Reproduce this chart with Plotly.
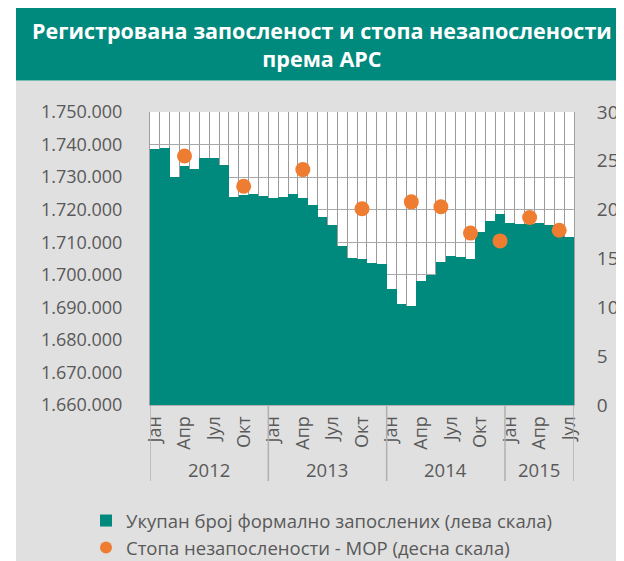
import plotly.graph_objects as go

# ---------------- data ----------------
month_names = ["Јан", "Феб", "Мар", "Апр", "Мај", "Јун", "Јул", "Авг", "Сеп", "Окт", "Нов", "Дец"]
years = [2012, 2013, 2014, 2015]
n_months = 43  # Jan 2012 .. Jul 2015

employment = [
    1738600, 1739000, 1729900, 1733500, 1732400, 1735800, 1735800, 1733800, 1723800, 1724600, 1724800, 1724100,
    1723600, 1723800, 1724800, 1723500, 1721300, 1717700, 1715200, 1708900, 1705200, 1704700, 1703500, 1703200,
    1695500, 1691000, 1690300, 1698200, 1699800, 1704000, 1705800, 1705400, 1704700, 1713000, 1716500, 1718600,
    1715800, 1715500, 1715700, 1716000, 1715300, 1715100, 1711700,
]
# unemployment (LFS) observations: month index -> rate
unemp_idx = [3, 9, 15, 21, 26, 29, 32, 35, 38, 41]
unemp_rate = [25.5, 22.4, 24.1, 20.1, 20.8, 20.3, 17.6, 16.8, 19.2, 17.9]

title_text = "Регистрована запосленост и стопа незапослености<br>према АРС"
bar_name = "Укупан број формално запослених (лева скала)"
dot_name = "Стопа незапослености - МОР (десна скала)"

left_ticks = list(range(1660000, 1750001, 10000))
right_ticks = list(range(0, 31, 5))

# ---------------- layout constants ----------------
OFF = 8  # page body margin
W, H = 624 - OFF, 561 - OFF
PLOT_L, PLOT_R, PLOT_T, PLOT_B = 150, 574, 112, 405  # page pixels
L, T = PLOT_L - OFF, PLOT_T - OFF
R, B = W - (PLOT_R - OFF), H - (PLOT_B - OFF)
PW, PH = PLOT_R - PLOT_L, PLOT_B - PLOT_T
TEAL = "#00897d"
ORANGE = "#ee7d31"
GREY_TXT = "#595959"
FONT = "Open Sans"

def px_x(p):
    return (p - PLOT_L) / PW

def px_y(p):
    return (PLOT_B - p) / PH

x_idx = list(range(n_months))

def fmt(v):
    return f"{v:,}".replace(",", ".")

fig = go.Figure()
fig.add_trace(go.Bar(
    x=x_idx, y=employment, name=bar_name,
    marker=dict(color=TEAL, line=dict(width=0)),
    yaxis="y",
))
fig.add_trace(go.Scatter(
    x=unemp_idx, y=unemp_rate, name=dot_name, mode="markers",
    marker=dict(color=ORANGE, size=15),
    yaxis="y2",
))

tickvals = [i for i in x_idx if i % 3 == 0]
ticktext = [month_names[i % 12] for i in tickvals]

shapes = [
    # grey panel
    dict(type="rect", xref="paper", yref="paper", x0=px_x(16), x1=px_x(640),
         y0=px_y(580), y1=px_y(80.5), fillcolor="#e0e0e0", line=dict(width=0), layer="below"),
    # white plot area
    dict(type="rect", xref="paper", yref="paper", x0=0, x1=1, y0=0, y1=1,
         fillcolor="white", line=dict(width=0), layer="below"),
    # title banner
    dict(type="rect", xref="paper", yref="paper", x0=px_x(16), x1=px_x(640),
         y0=px_y(80.5), y1=px_y(7.5), fillcolor=TEAL, line=dict(width=0), layer="below"),
]
# year separators
bounds = [-0.5] + [12 * k - 0.5 for k in range(1, len(years))] + [n_months - 0.5]
for b in bounds:
    shapes.append(dict(type="line", xref="x", yref="paper", x0=b, x1=b, y0=0, y1=px_y(481),
                       line=dict(color="#b0b0b0", width=1.5), layer="above"))

annotations = [
    dict(text=title_text, xref="paper", yref="paper", x=px_x(322), y=px_y(45),
         showarrow=False, xanchor="center", yanchor="middle",
         font=dict(family=FONT, size=21.5, color="white", weight="bold")),
]
for k, yr in enumerate(years):
    a = bounds[k]
    b = bounds[k + 1]
    annotations.append(dict(text=str(yr), xref="x", yref="paper", x=(a + b) / 2, y=px_y(469),
                            showarrow=False, xanchor="center", yanchor="middle",
                            font=dict(family=FONT, size=18.5, color=GREY_TXT)))

fig.update_layout(
    width=W, height=H,
    margin=dict(l=L, r=R, t=T, b=B, autoexpand=False),
    paper_bgcolor="white",
    plot_bgcolor="rgba(0,0,0,0)",
    font=dict(family=FONT, size=18, color=GREY_TXT),
    bargap=0,
    showlegend=True,
    legend=dict(x=px_x(86), y=px_y(502), xanchor="left", yanchor="top",
                bgcolor="rgba(0,0,0,0)", font=dict(size=18.5, color=GREY_TXT),
                itemsizing="constant", tracegroupgap=0),
    xaxis=dict(
        range=[-0.5, n_months - 0.5], tickmode="array", tickvals=tickvals, ticktext=ticktext,
        tickangle=-90, showgrid=False, zeroline=False, showline=True, linecolor="#b0b0b0",
        ticks="", tickfont=dict(size=18, color=GREY_TXT), ticklabelstandoff=3,
        minor=dict(tickmode="array", tickvals=[i - 0.5 for i in range(n_months + 1)],
                   showgrid=True, gridcolor="#9a9a9a", gridwidth=1, ticks=""),
    ),
    yaxis=dict(
        range=[left_ticks[0], left_ticks[-1]], tickmode="array", tickvals=left_ticks,
        ticktext=[fmt(v) for v in left_ticks], showgrid=True, gridcolor="#a8a8a8", gridwidth=1,
        zeroline=False, showline=True, linecolor="#a0a0a0", ticks="", ticklabelstandoff=23,
        tickfont=dict(size=18, color=GREY_TXT),
    ),
    yaxis2=dict(
        range=[right_ticks[0], right_ticks[-1]], tickmode="array", tickvals=right_ticks,
        overlaying="y", side="right", showgrid=False, zeroline=False, showline=True,
        linecolor="#a0a0a0", ticks="", ticklabelstandoff=18,
        tickfont=dict(size=19, color=GREY_TXT),
    ),
    shapes=shapes,
    annotations=annotations,
)

fig.write_html("out.html")
